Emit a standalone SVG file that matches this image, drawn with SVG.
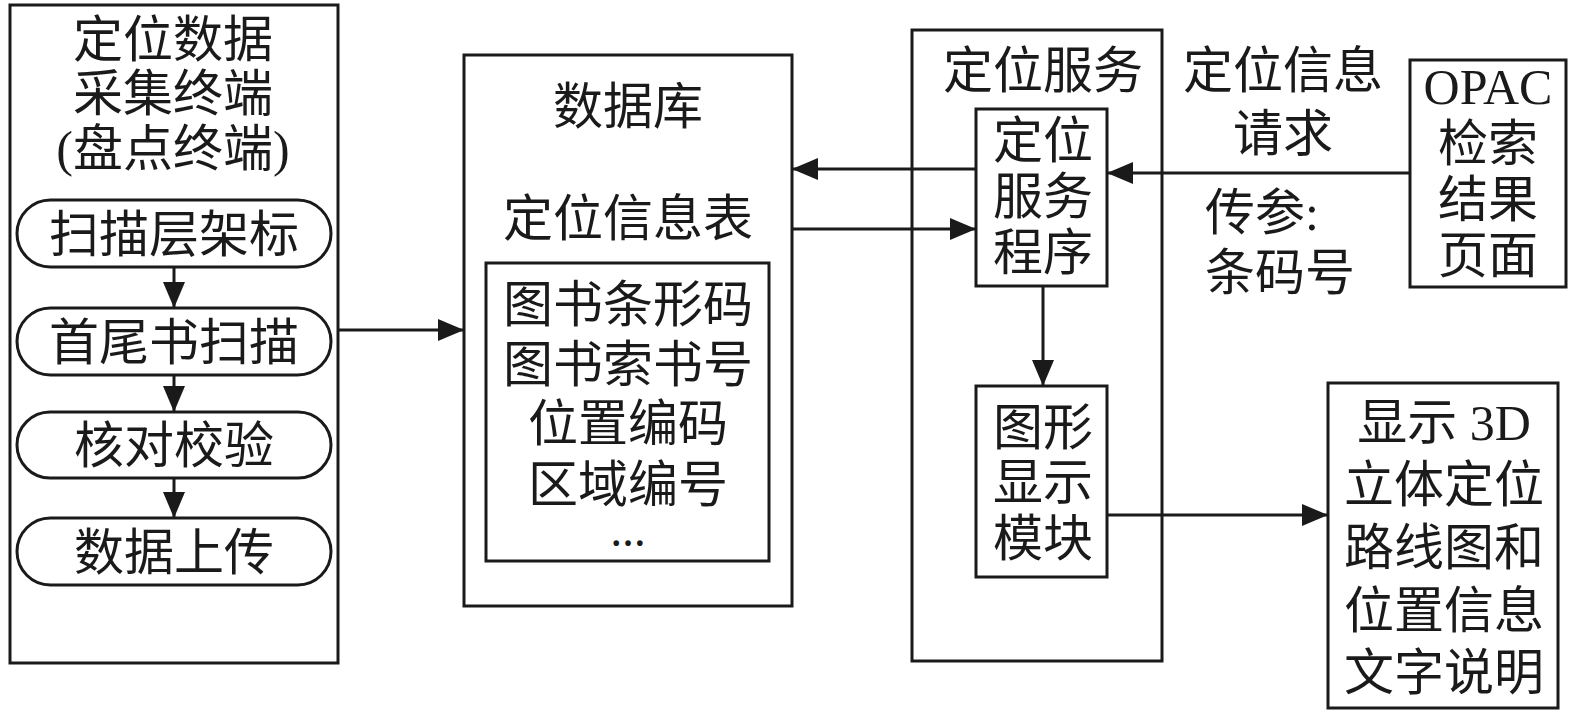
<svg xmlns="http://www.w3.org/2000/svg" width="1575" height="715" viewBox="0 0 1575 715">
<defs>
<style>
.box{fill:#fff;stroke:#1a1a1a;stroke-width:3}
.ln{fill:none;stroke:#1a1a1a;stroke-width:3}
text{font-family:"Liberation Serif","Noto Sans CJK SC",serif;font-size:50px;fill:#1a1a1a;text-anchor:middle}
</style>
<marker id="ah" markerUnits="userSpaceOnUse" markerWidth="26" markerHeight="22" refX="26" refY="11" orient="auto">
<path d="M0,0 L26,11 L0,22 Z" fill="#1a1a1a"/>
</marker>
</defs>
<rect width="1575" height="715" fill="#fff"/>

<g id="terminal">
<rect class="box" x="10" y="5" width="328" height="658"/>
<text x="173" y="57">定位数据</text>
<text x="173" y="111">采集终端</text>
<text x="173" y="166">(盘点终端)</text>
</g>
<g id="scan-shelf">
<rect class="box" x="17" y="200" width="314" height="67" rx="33.5"/>
<text x="174" y="252">扫描层架标</text>
</g>
<g id="scan-books">
<rect class="box" x="17" y="308" width="314" height="67" rx="33.5"/>
<text x="174" y="360">首尾书扫描</text>
</g>
<g id="verify">
<rect class="box" x="17" y="412" width="314" height="66" rx="33"/>
<text x="174" y="463">核对校验</text>
</g>
<g id="upload">
<rect class="box" x="17" y="518" width="314" height="67" rx="33.5"/>
<text x="174" y="570">数据上传</text>
</g>

<g id="database">
<rect class="box" x="464" y="55" width="328" height="551"/>
<text x="628" y="124">数据库</text>
<text x="628" y="236">定位信息表</text>
</g>
<g id="info-table">
<rect class="box" x="486" y="263" width="283" height="298"/>
<text x="628" y="322">图书条形码</text>
<text x="628" y="382">图书索书号</text>
<text x="628" y="441">位置编码</text>
<text x="628" y="502">区域编号</text>
<text x="628" y="546" style="font-size:35px;font-weight:bold">…</text>
</g>

<g id="locate-service">
<rect class="box" x="912" y="30" width="250" height="631"/>
<text x="1043" y="88">定位服务</text>
</g>
<g id="service-program">
<rect class="box" x="976" y="109" width="131" height="177"/>
<text x="1043" y="158">定位</text>
<text x="1043" y="214">服务</text>
<text x="1043" y="270">程序</text>
</g>
<g id="graphic-module">
<rect class="box" x="976" y="386" width="131" height="191"/>
<text x="1043" y="445">图形</text>
<text x="1043" y="500">显示</text>
<text x="1043" y="556">模块</text>
</g>

<g id="opac">
<rect class="box" x="1410" y="60" width="156" height="227"/>
<text x="1488" y="104">OPAC</text>
<text x="1488" y="161">检索</text>
<text x="1488" y="217">结果</text>
<text x="1488" y="273">页面</text>
</g>

<g id="display-3d">
<rect class="box" x="1328" y="383" width="230" height="325"/>
<text x="1444" y="440">显示 3D</text>
<text x="1444" y="502">立体定位</text>
<text x="1444" y="565">路线图和</text>
<text x="1444" y="628">位置信息</text>
<text x="1444" y="690">文字说明</text>
</g>

<g id="labels">
<text x="1283" y="88">定位信息</text>
<text x="1283" y="151">请求</text>
<text x="1205" y="230" style="text-anchor:start">传参:</text>
<text x="1205" y="290" style="text-anchor:start">条码号</text>
</g>

<g id="connectors">
<line class="ln" x1="174" y1="267" x2="174" y2="308" marker-end="url(#ah)"/>
<line class="ln" x1="174" y1="375" x2="174" y2="412" marker-end="url(#ah)"/>
<line class="ln" x1="174" y1="478" x2="174" y2="518" marker-end="url(#ah)"/>
<line class="ln" x1="338" y1="330" x2="464" y2="330" marker-end="url(#ah)"/>
<line class="ln" x1="976" y1="169" x2="792" y2="169" marker-end="url(#ah)"/>
<line class="ln" x1="792" y1="229" x2="976" y2="229" marker-end="url(#ah)"/>
<line class="ln" x1="1410" y1="173" x2="1107" y2="173" marker-end="url(#ah)"/>
<line class="ln" x1="1043" y1="286" x2="1043" y2="386" marker-end="url(#ah)"/>
<line class="ln" x1="1107" y1="515" x2="1328" y2="515" marker-end="url(#ah)"/>
</g>
</svg>
